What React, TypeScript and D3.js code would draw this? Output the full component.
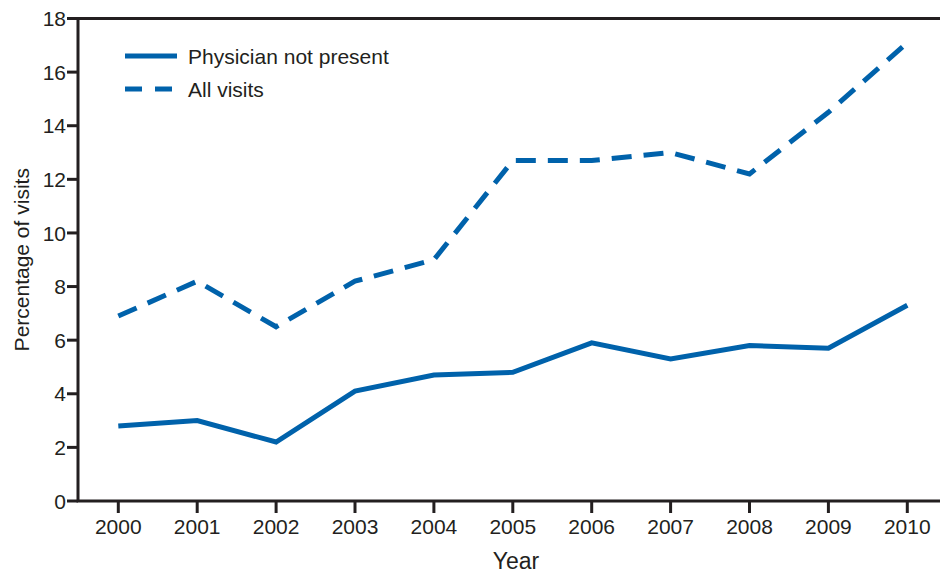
import React from "react";
import * as d3 from "d3";

const years = [2000, 2001, 2002, 2003, 2004, 2005, 2006, 2007, 2008, 2009, 2010];
const physicianNotPresent = [2.8, 3.0, 2.2, 4.1, 4.7, 4.8, 5.9, 5.3, 5.8, 5.7, 7.3];
const allVisits = [6.9, 8.2, 6.5, 8.2, 9.0, 12.7, 12.7, 13.0, 12.2, 14.5, 17.1];
const yTicks = [0, 2, 4, 6, 8, 10, 12, 14, 16, 18];

const WIDTH = 940;
const HEIGHT = 575;
const BLUE = "#0062ab";
const INK = "#231f20";
const FONT = "'Liberation Sans', Arial, sans-serif";

export default function App() {
    const left = 78;

    const x = d3.scaleLinear([2000, 2010], [118.3, 907.3]);
    const y = d3.scaleLinear([0, 18], [501, 18.5]);

    const line = d3.line<number>()
        .x((d, i) => x(years[i]))
        .y((d) => y(d));

    return <svg width={WIDTH} height={HEIGHT}
        style={{ position: "absolute", left: 0, top: 0, background: "white" }}
        fontFamily={FONT}>

        {/* frame: left, top, bottom */}
        <path d={`M${WIDTH},${y(18)}H${left}V${y(0)}H${WIDTH}`}
            fill="none" stroke={INK} strokeWidth={3} />

        <g name="yTicks">
            {yTicks.map((t) => (
                <g key={t}>
                    <line x1={left - 11} x2={left} y1={y(t)} y2={y(t)} stroke={INK} strokeWidth={3} />
                    <text x={left - 12} y={y(t)} dy="0.36em" textAnchor="end"
                        fontSize={21} fill={INK}>{t}</text>
                </g>
            ))}
        </g>

        <g name="xTicks">
            {years.map((yr) => (
                <g key={yr}>
                    <line x1={x(yr)} x2={x(yr)} y1={y(0)} y2={y(0) + 12} stroke={INK} strokeWidth={3} />
                    <text x={x(yr)} y={y(0) + 33} textAnchor="middle" fontSize={21} fill={INK}>{yr}</text>
                </g>
            ))}
        </g>

        <text x={516} y={569} textAnchor="middle" fontSize={23} fill={INK}>Year</text>
        <text transform={`translate(29,${(y(0) + y(18)) / 2}) rotate(-90)`} textAnchor="middle"
            fontSize={21} fill={INK}>Percentage of visits</text>

        <path d={line(physicianNotPresent)!} fill="none" stroke={BLUE} strokeWidth={5} />
        <path d={line(allVisits)!} fill="none" stroke={BLUE} strokeWidth={5} strokeDasharray="20 12" />

        <g name="legend">
            <line x1={125} x2={177} y1={56} y2={56} stroke={BLUE} strokeWidth={5} />
            <text x={188} y={56} dy="0.36em" fontSize={21} fill={INK}>Physician not present</text>
            <line x1={125} x2={177} y1={89} y2={89} stroke={BLUE} strokeWidth={5} strokeDasharray="17 13" />
            <text x={188} y={89} dy="0.36em" fontSize={21} fill={INK}>All visits</text>
        </g>
    </svg>;
}
